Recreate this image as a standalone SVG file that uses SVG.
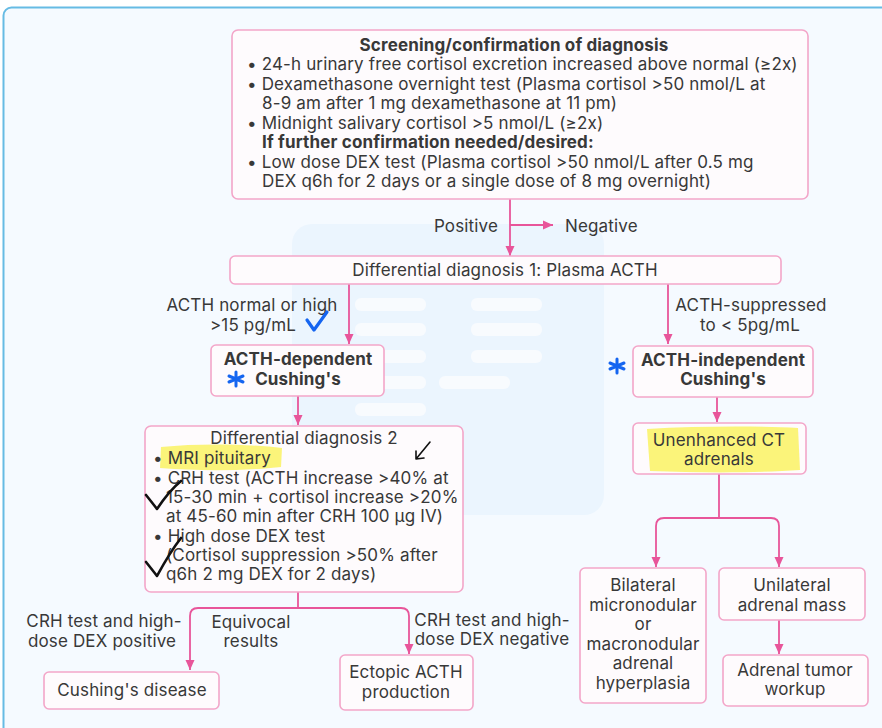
<svg xmlns="http://www.w3.org/2000/svg" width="882" height="728" viewBox="0 0 882 728">
<style>
.bx{fill:#fefbfd;stroke:#f3a6c9;stroke-width:1.6}
.t{font-family:Inter,"Liberation Sans",sans-serif;font-size:17px;letter-spacing:0.15px;fill:#383838}
.b{font-weight:bold}
.c{text-anchor:middle}
.cn{fill:none;stroke:#e8559a;stroke-width:1.8}
.wm{fill:#f8fbfe}
</style>
<defs>
<marker id="ah" markerUnits="userSpaceOnUse" markerWidth="10" markerHeight="10" refX="10" refY="5" orient="auto"><path d="M0,0.5 L10,5 L0,9.5 z" fill="#e8559a"/></marker>
</defs>
<rect x="3.5" y="7.5" width="900" height="740" rx="8" fill="#f5faff" stroke="#66bbe4" stroke-width="2"/>
<g id="watermark">
<rect x="292" y="224" width="312" height="291" rx="20" fill="#ebf5fe"/>
<rect class="wm" x="355" y="298" width="71" height="13" rx="6"/>
<rect class="wm" x="471" y="298" width="71" height="13" rx="6"/>
<rect class="wm" x="355" y="323" width="71" height="13" rx="6"/>
<rect class="wm" x="471" y="323" width="71" height="13" rx="6"/>
<rect class="wm" x="355" y="350" width="71" height="13" rx="6"/>
<rect class="wm" x="471" y="350" width="71" height="13" rx="6"/>
<rect class="wm" x="355" y="376" width="71" height="13" rx="6"/>
<rect class="wm" x="439" y="376" width="71" height="13" rx="6"/>
<rect class="wm" x="355" y="403" width="71" height="13" rx="6"/>
<rect class="wm" x="355" y="455" width="71" height="12" rx="6"/>
</g>
<g id="connectors">
<path class="cn" d="M510,199 V256" marker-end="url(#ah)"/>
<path class="cn" d="M510,225 H553" marker-end="url(#ah)"/>
<path class="cn" d="M349,284 V344" marker-end="url(#ah)"/>
<path class="cn" d="M668,284 V344" marker-end="url(#ah)"/>
<path class="cn" d="M298,396 V425" marker-end="url(#ah)"/>
<path class="cn" d="M717,397 V422" marker-end="url(#ah)"/>
<path class="cn" d="M298,592 V608"/>
<path class="cn" d="M298,608 H198 Q190,608 190,616 V670" marker-end="url(#ah)"/>
<path class="cn" d="M298,608 H401 Q409,608 409,616 V654" marker-end="url(#ah)"/>
<path class="cn" d="M719,474 V518"/>
<path class="cn" d="M719,518 H664 Q656,518 656,526 V567" marker-end="url(#ah)"/>
<path class="cn" d="M719,518 H771 Q779,518 779,526 V567" marker-end="url(#ah)"/>
<path class="cn" d="M779,620 V654" marker-end="url(#ah)"/>
</g>
<g id="labels">
<text class="t" x="498" y="232" text-anchor="end">Positive</text>
<text class="t" x="565" y="232">Negative</text>
<text class="t c" x="252" y="311">ACTH normal or high</text>
<text class="t c" x="253" y="331">&gt;15 pg/mL</text>
<text class="t c" x="751" y="311">ACTH-suppressed</text>
<text class="t c" x="750" y="331">to &lt; 5pg/mL</text>
<text class="t c" x="104" y="627">CRH test and high-</text>
<text class="t c" x="102" y="647">dose DEX positive</text>
<text class="t c" x="251" y="628">Equivocal</text>
<text class="t c" x="251" y="647">results</text>
<text class="t c" x="492" y="626">CRH test and high-</text>
<text class="t c" x="492" y="645">dose DEX negative</text>
</g>
<g id="screening">
<rect class="bx" x="232" y="30" width="576" height="169" rx="6"/>
<text class="t b c" x="514" y="51">Screening/confirmation of diagnosis</text>
<text class="t" x="247" y="70">• 24-h urinary free cortisol excretion increased above normal (≥2x)</text>
<text class="t" x="247" y="90">• Dexamethasone overnight test (Plasma cortisol &gt;50 nmol/L at</text>
<text class="t" x="262" y="109">8-9 am after 1 mg dexamethasone at 11 pm)</text>
<text class="t" x="247" y="129">• Midnight salivary cortisol &gt;5 nmol/L (≥2x)</text>
<text class="t b" x="262" y="148">If further confirmation needed/desired:</text>
<text class="t" x="247" y="168">• Low dose DEX test (Plasma cortisol &gt;50 nmol/L after 0.5 mg</text>
<text class="t" x="262" y="187">DEX q6h for 2 days or a single dose of 8 mg overnight)</text>
</g>
<g id="dd1">
<rect class="bx" x="230" y="256" width="551" height="28" rx="5"/>
<text class="t c" x="505" y="276">Differential diagnosis 1: Plasma ACTH</text>
</g>
<g id="acth-dep">
<rect class="bx" x="211" y="345" width="173" height="51" rx="5"/>
<text class="t b c" x="298" y="365">ACTH-dependent</text>
<text class="t b c" x="298" y="385">Cushing's</text>
</g>
<g id="acth-indep">
<rect class="bx" x="633" y="346" width="180" height="51" rx="5"/>
<text class="t b c" x="723" y="366">ACTH-independent</text>
<text class="t b c" x="723" y="385">Cushing's</text>
</g>
<g id="dd2">
<rect class="bx" x="145" y="426" width="318" height="166" rx="6"/>
<path d="M161,447 C200,443 250,444 282,448 L281,467 C240,471 200,471 160,468 Z" fill="#fbf36b" opacity="0.9"/>
<text class="t c" x="304" y="444">Differential diagnosis 2</text>
<text class="t" x="153" y="464">• MRI pituitary</text>
<text class="t" x="153" y="484">• CRH test (ACTH increase &gt;40% at</text>
<text class="t" x="166" y="503">15-30 min + cortisol increase &gt;20%</text>
<text class="t" x="166" y="522">at 45-60 min after CRH 100 µg IV)</text>
<text class="t" x="153" y="542">• High dose DEX test</text>
<text class="t" x="166" y="561">(Cortisol suppression &gt;50% after</text>
<text class="t" x="166" y="580">q6h 2 mg DEX for 2 days)</text>
</g>
<g id="ct">
<rect class="bx" x="633" y="423" width="173" height="51" rx="5"/>
<path d="M647,429 C700,426 760,426 798,428 L800,470 C760,473 700,473 650,471 Z" fill="#fbf36b" opacity="0.9"/>
<text class="t c" x="719" y="446">Unenhanced CT</text>
<text class="t c" x="719" y="465">adrenals</text>
</g>
<g id="bilateral">
<rect class="bx" x="580" y="568" width="126" height="135" rx="5"/>
<text class="t c" x="643" y="591">Bilateral</text>
<text class="t c" x="643" y="611">micronodular</text>
<text class="t c" x="643" y="630">or</text>
<text class="t c" x="643" y="650">macronodular</text>
<text class="t c" x="643" y="669">adrenal</text>
<text class="t c" x="643" y="689">hyperplasia</text>
</g>
<g id="unilateral">
<rect class="bx" x="719" y="568" width="146" height="52" rx="5"/>
<text class="t c" x="792" y="591">Unilateral</text>
<text class="t c" x="792" y="611">adrenal mass</text>
</g>
<g id="tumor">
<rect class="bx" x="723" y="655" width="145" height="51" rx="5"/>
<text class="t c" x="795" y="676">Adrenal tumor</text>
<text class="t c" x="795" y="695">workup</text>
</g>
<g id="cushings-disease">
<rect class="bx" x="44" y="672" width="175" height="37" rx="5"/>
<text class="t c" x="132" y="696">Cushing's disease</text>
</g>
<g id="ectopic">
<rect class="bx" x="340" y="655" width="133" height="55" rx="5"/>
<text class="t c" x="406" y="678">Ectopic ACTH</text>
<text class="t c" x="406" y="698">production</text>
</g>
<g id="annotations" fill="none" stroke-linecap="round" stroke-linejoin="round">
<path d="M307,320 L314,330 L327,312" stroke="#1565f0" stroke-width="3.2"/>
<g stroke="#1565f0" stroke-width="3"><path d="M236,372 L236,386 M229,376 L243,382 M229,382 L243,376"/></g>
<g stroke="#1565f0" stroke-width="3"><path d="M617,359 L617,373 M610,363 L624,369 M610,369 L624,363"/></g>
<path d="M146,495 C150,500 154,505 157,509 C163,500 170,490 181,481" stroke="#111" stroke-width="2.6"/>
<path d="M146,562 C150,567 154,572 157,576 C163,565 170,552 181,538" stroke="#111" stroke-width="2.6"/>
<path d="M430,442 L416,459 M416,459 L416,451 M416,459 L424,458" stroke="#111" stroke-width="1.6"/>
</g>
</svg>
